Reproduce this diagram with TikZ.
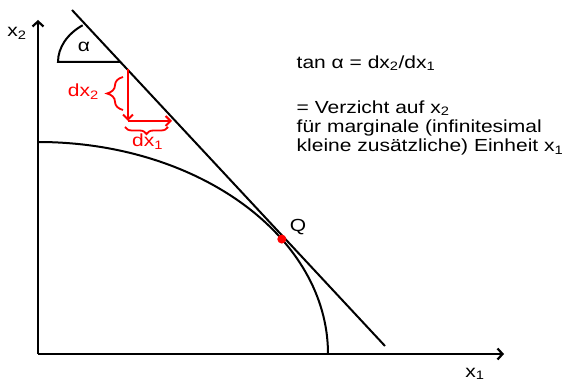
\documentclass[tikz,border=0pt]{standalone}
\usepackage{fontspec}
\setmainfont{Liberation Sans}[FakeStretch=1.2]
\usetikzlibrary{arrows.meta,decorations.pathreplacing}

\tikzset{
  eje/.style={line width=2.2pt,-{Straight Barb[length=5pt,width=11pt]}},
  curva/.style={line width=2pt},
  flecha/.style={draw=red,line width=2pt,-{Straight Barb[length=5pt,width=10pt]}},
  llave/.style={draw=red,line width=1.8pt,decorate,decoration={brace,amplitude=#1}},
  etiq/.style={inner sep=0pt,font=\fontsize{17.5}{19}\selectfont},
}

\begin{document}
\begin{tikzpicture}[x=1pt,y=1pt]
    \useasboundingbox (0,0) rectangle (569,382);
    % Ejes
    \coordinate (O) at (38,28);
    \draw[eje] (O) -- (38,362) coordinate (ytop);
    \draw[eje] (O) -- (504,28) coordinate (xend);
    \node[etiq,anchor=base] (x2) at (17,345) {x\textsubscript{2}};
    \node[etiq,anchor=base] (x1) at (475,5) {x\textsubscript{1}};
    % Curva de transformación
    \draw[curva] (38,240) arc[start angle=90,end angle=0,x radius=290,y radius=212];
    % Tangente
    \coordinate (T1) at (72,372);
    \coordinate (T2) at (385,36);
    \draw[curva] (T1) -- (T2);
    % Punto Q
    \coordinate (Q) at (281.8,142.9);
    \fill[red] (Q) circle (4.5);
    \node[etiq,anchor=base] (Qlab) at (298,150) {Q};
    % Ángulo
    \coordinate (A) at (120,320);
    \draw[curva] (A) -- ++(-62,0) arc[start angle=180,end angle=127,x radius=62,y radius=46];
    \node[etiq,anchor=base] (alpha) at (84,330) {α};
    % dx2 y dx1
    \coordinate (P1) at (128,313);
    \coordinate (P2) at (128,261);
    \coordinate (P3) at (172,261);
    \draw[flecha] (P1) -- (P2);
    \draw[flecha] (P2) -- (P3);
    \draw[llave=16] (123,272) -- (123,305);
    \draw[llave=7] (168,255) -- (125,255);
    \node[etiq,red,anchor=base east] (dx2) at (99,285) {dx\textsubscript{2}};
    \node[etiq,red,anchor=base west] (dx1) at (132,235) {dx\textsubscript{1}};
    % Texto
    \node[etiq,anchor=base west] (tan) at (296.5,313.7) {tan α = dx\textsubscript{2}/dx\textsubscript{1}};
    \node[etiq,anchor=base west] (l1) at (296.5,268.7) {= Verzicht auf x\textsubscript{2}};
    \node[etiq,anchor=base west] (l2) at (296.5,249.3) {für marginale (infinitesimal};
    \node[etiq,anchor=base west] (l3) at (296.5,230.3) {kleine zusätzliche) Einheit x\textsubscript{1}};
\end{tikzpicture}
\end{document}
